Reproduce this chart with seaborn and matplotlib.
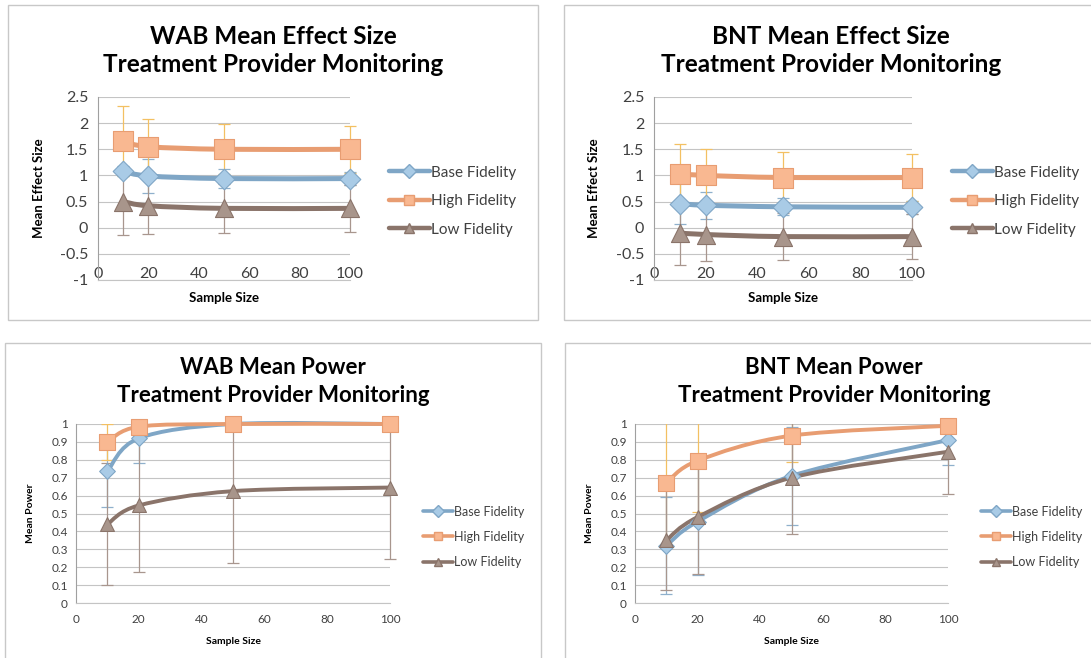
# Import libraries
import matplotlib
matplotlib.use('Agg')
import matplotlib.pyplot as plt
from matplotlib.path import Path
from matplotlib.patches import PathPatch, Rectangle
from matplotlib.lines import Line2D
import seaborn as sns

# Define data
sample_sizes = [10, 20, 50, 100]
series_names = ['Base Fidelity', 'High Fidelity', 'Low Fidelity']

# WAB mean effect size (mean, error)
wab_es_base = [1.08, 0.99, 0.94, 0.94]
wab_es_base_err = [0.10, 0.33, 0.18, 0.12]
wab_es_high = [1.65, 1.55, 1.50, 1.50]
wab_es_high_err = [0.67, 0.53, 0.48, 0.45]
wab_es_low = [0.50, 0.42, 0.37, 0.37]
wab_es_low_err = [0.63, 0.54, 0.47, 0.45]

# BNT mean effect size
bnt_es_base = [0.46, 0.43, 0.40, 0.39]
bnt_es_base_err = [0.39, 0.26, 0.16, 0.12]
bnt_es_high = [1.03, 1.00, 0.96, 0.96]
bnt_es_high_err = [0.57, 0.51, 0.48, 0.45]
bnt_es_low = [-0.10, -0.13, -0.17, -0.17]
bnt_es_low_err = [0.62, 0.50, 0.45, 0.43]

# WAB mean power
wab_pw_base = [0.735, 0.92, 1.0, 1.0]
wab_pw_base_err = [0.20, 0.14, 0.0, 0.0]
wab_pw_high = [0.90, 0.985, 1.0, 1.0]
wab_pw_high_err = [0.10, 0.02, 0.0, 0.0]
wab_pw_low = [0.44, 0.545, 0.625, 0.645]
wab_pw_low_err = [0.34, 0.37, 0.40, 0.40]

# BNT mean power
bnt_pw_base = [0.32, 0.455, 0.71, 0.91]
bnt_pw_base_err = [0.27, 0.30, 0.275, 0.14]
bnt_pw_high = [0.67, 0.795, 0.935, 0.99]
bnt_pw_high_err = [0.34, 0.285, 0.15, 0.03]
bnt_pw_low = [0.35, 0.48, 0.70, 0.845]
bnt_pw_low_err = [0.28, 0.32, 0.315, 0.235]

# Styles: line colour, marker face, marker edge, error bar colour, marker
styles = {
    'Base Fidelity': dict(line='#7fa6c6', face='#a9cbe6', edge='#7fa6c6', err='#8fb0cc', marker='D'),
    'High Fidelity': dict(line='#e89d72', face='#f9b891', edge='#e89d72', err='#f3c062', marker='s'),
    'Low Fidelity': dict(line='#8a746a', face='#a8958b', edge='#8a746a', err='#a8968e', marker='^'),
}

sns.set_style('white')
plt.rcParams['font.family'] = ['Lato', 'DejaVu Sans']
TXT = '#404040'


def smooth_path(xs, ys):
    # Excel-style smoothed line (Catmull-Rom -> cubic Bezier)
    pts = list(zip(xs, ys))
    n = len(pts)
    verts = [pts[0]]
    codes = [Path.MOVETO]
    for i in range(n - 1):
        p0 = pts[i - 1] if i > 0 else pts[i]
        p1 = pts[i]
        p2 = pts[i + 1]
        p3 = pts[i + 2] if i + 2 < n else pts[i + 1]
        c1 = (p1[0] + (p2[0] - p0[0]) / 6, p1[1] + (p2[1] - p0[1]) / 6)
        c2 = (p2[0] - (p3[0] - p1[0]) / 6, p2[1] - (p3[1] - p1[1]) / 6)
        verts += [c1, c2, p2]
        codes += [Path.CURVE4] * 3
    return Path(verts, codes)


def draw_panel(ax, data, ylim, ystep, ylabel, big):
    lw = 3.6 if big else 2.8
    ms = {'D': 10.5, 's': 15, '^': 13} if big else {'D': 8, 's': 11, '^': 10}
    # error bars clipped vertically to the plot range, but not at x = 100
    clip = Rectangle((-0.1, 0), 1.2, 1, transform=ax.transAxes)
    for name in series_names:
        vals, errs = data[name]
        st = styles[name]
        eb = ax.errorbar(sample_sizes, vals, yerr=errs, fmt='none', ecolor=st['err'],
                         elinewidth=0.9, capsize=4, capthick=0.9, zorder=2)
        for art in eb.get_children():
            art.set_clip_path(clip)
        ax.add_patch(PathPatch(smooth_path(sample_sizes, vals), fill=False,
                               edgecolor=st['line'], lw=lw, zorder=3,
                               capstyle='round', joinstyle='round', clip_on=False))
        sns.scatterplot(x=sample_sizes, y=vals, ax=ax, marker=st['marker'],
                        s=ms[st['marker']] ** 2, color=st['face'],
                        edgecolor=st['edge'], linewidth=0.8, zorder=4,
                        legend=False, clip_on=False)
    ax.set_xlim(0, 100)
    ax.set_ylim(*ylim)
    ticks = []
    v = ylim[0]
    while v <= ylim[1] + 1e-9:
        ticks.append(round(v, 2))
        v += ystep
    ax.set_yticks(ticks)
    ax.set_yticklabels([('%g' % t) for t in ticks])
    ax.set_xticks([0, 20, 40, 60, 80, 100])
    ax.grid(axis='y', color='#c4c4c4', lw=0.8)
    ax.set_axisbelow(True)
    for s in ['top', 'right']:
        ax.spines[s].set_visible(False)
    ax.spines['left'].set_color('#a0a0a0')
    ax.spines['bottom'].set_color('#c4c4c4')
    ax.set_ylabel(ylabel, fontweight='bold', color='black',
                  fontsize=9.5 if big else 7.5)
    ax.set_xlabel('Sample Size', fontweight='bold', color='black',
                  fontsize=9.5 if big else 7.5)


fig = plt.figure(figsize=(10.91, 6.58), dpi=100)
W, H = 1091, 658

# Chart area borders
for x0, y0, x1, y1 in [(8, 5, 538, 320), (564, 5, 1096, 320),
                       (5, 343, 541, 664), (565, 343, 1096, 664)]:
    fig.patches.append(Rectangle((x0 / W, 1 - y1 / H), (x1 - x0) / W, (y1 - y0) / H,
                                 transform=fig.transFigure, fill=False,
                                 edgecolor='#c8c8c8', lw=1.0))


def px_axes(x0, x1, y0, y1):
    return fig.add_axes([x0 / W, 1 - y1 / H, (x1 - x0) / W, (y1 - y0) / H])


ax1 = px_axes(98, 350, 97, 280)
ax2 = px_axes(654, 912, 97, 280)
ax3 = px_axes(76, 390, 424, 603)
ax4 = px_axes(635, 948, 424, 603)

panels = [
    (ax1, {'Base Fidelity': (wab_es_base, wab_es_base_err),
           'High Fidelity': (wab_es_high, wab_es_high_err),
           'Low Fidelity': (wab_es_low, wab_es_low_err)},
     (-1, 2.5), 0.5, 'Mean Effect Size', True,
     ['WAB Mean Effect Size', 'Treatment Provider Monitoring'], 273),
    (ax2, {'Base Fidelity': (bnt_es_base, bnt_es_base_err),
           'High Fidelity': (bnt_es_high, bnt_es_high_err),
           'Low Fidelity': (bnt_es_low, bnt_es_low_err)},
     (-1, 2.5), 0.5, 'Mean Effect Size', True,
     ['BNT Mean Effect Size', 'Treatment Provider Monitoring'], 831),
    (ax3, {'Base Fidelity': (wab_pw_base, wab_pw_base_err),
           'High Fidelity': (wab_pw_high, wab_pw_high_err),
           'Low Fidelity': (wab_pw_low, wab_pw_low_err)},
     (0, 1), 0.1, 'Mean Power', False,
     ['WAB Mean Power', 'Treatment Provider Monitoring'], 273),
    (ax4, {'Base Fidelity': (bnt_pw_base, bnt_pw_base_err),
           'High Fidelity': (bnt_pw_high, bnt_pw_high_err),
           'Low Fidelity': (bnt_pw_low, bnt_pw_low_err)},
     (0, 1), 0.1, 'Mean Power', False,
     ['BNT Mean Power', 'Treatment Provider Monitoring'], 834),
]

for ax, data, ylim, ystep, ylabel, big, title, tx in panels:
    draw_panel(ax, data, ylim, ystep, ylabel, big)
    if big:
        ax.tick_params(axis='y', labelsize=11.5, colors=TXT, length=4, width=0.8,
                       color='#a0a0a0', pad=3)
        ax.tick_params(axis='x', labelsize=11.5, colors=TXT, length=0, pad=-9)
        ax.yaxis.set_label_coords(-0.21, 0.5)
        ax.xaxis.set_label_coords(0.5, -0.065)
        ty0, ty1, tfs = 37, 64, 17.5
    else:
        ax.tick_params(axis='y', labelsize=8.5, colors=TXT, length=3, width=0.8,
                       color='#a0a0a0', pad=3)
        ax.tick_params(axis='x', labelsize=8.5, colors=TXT, length=0, pad=8)
        ax.yaxis.set_label_coords(-0.13, 0.5)
        ax.xaxis.set_label_coords(0.5, -0.19)
        ty0, ty1, tfs = 368, 395, 16
    fig.text(tx / W, 1 - ty0 / H, title[0], ha='center', va='center',
             fontsize=tfs, fontweight='bold', color='black')
    fig.text(tx / W, 1 - ty1 / H, title[1], ha='center', va='center',
             fontsize=tfs, fontweight='bold', color='black')

    handles = [Line2D([0], [0], color=styles[n]['line'], lw=3.2 if big else 2.6,
                      marker=styles[n]['marker'], markersize=7 if big else 6,
                      markerfacecolor=styles[n]['face'],
                      markeredgecolor=styles[n]['edge']) for n in series_names]
    ax.legend(handles, series_names, loc='center left',
              bbox_to_anchor=(1.13 if big else 1.09, 0.43 if big else 0.37),
              frameon=False, fontsize=11 if big else 9,
              handlelength=2.7 if big else 2.4, handletextpad=0.05,
              labelspacing=0.95 if big else 1.05, borderaxespad=0,
              labelcolor=TXT)

fig.savefig('out.png', dpi=100)
